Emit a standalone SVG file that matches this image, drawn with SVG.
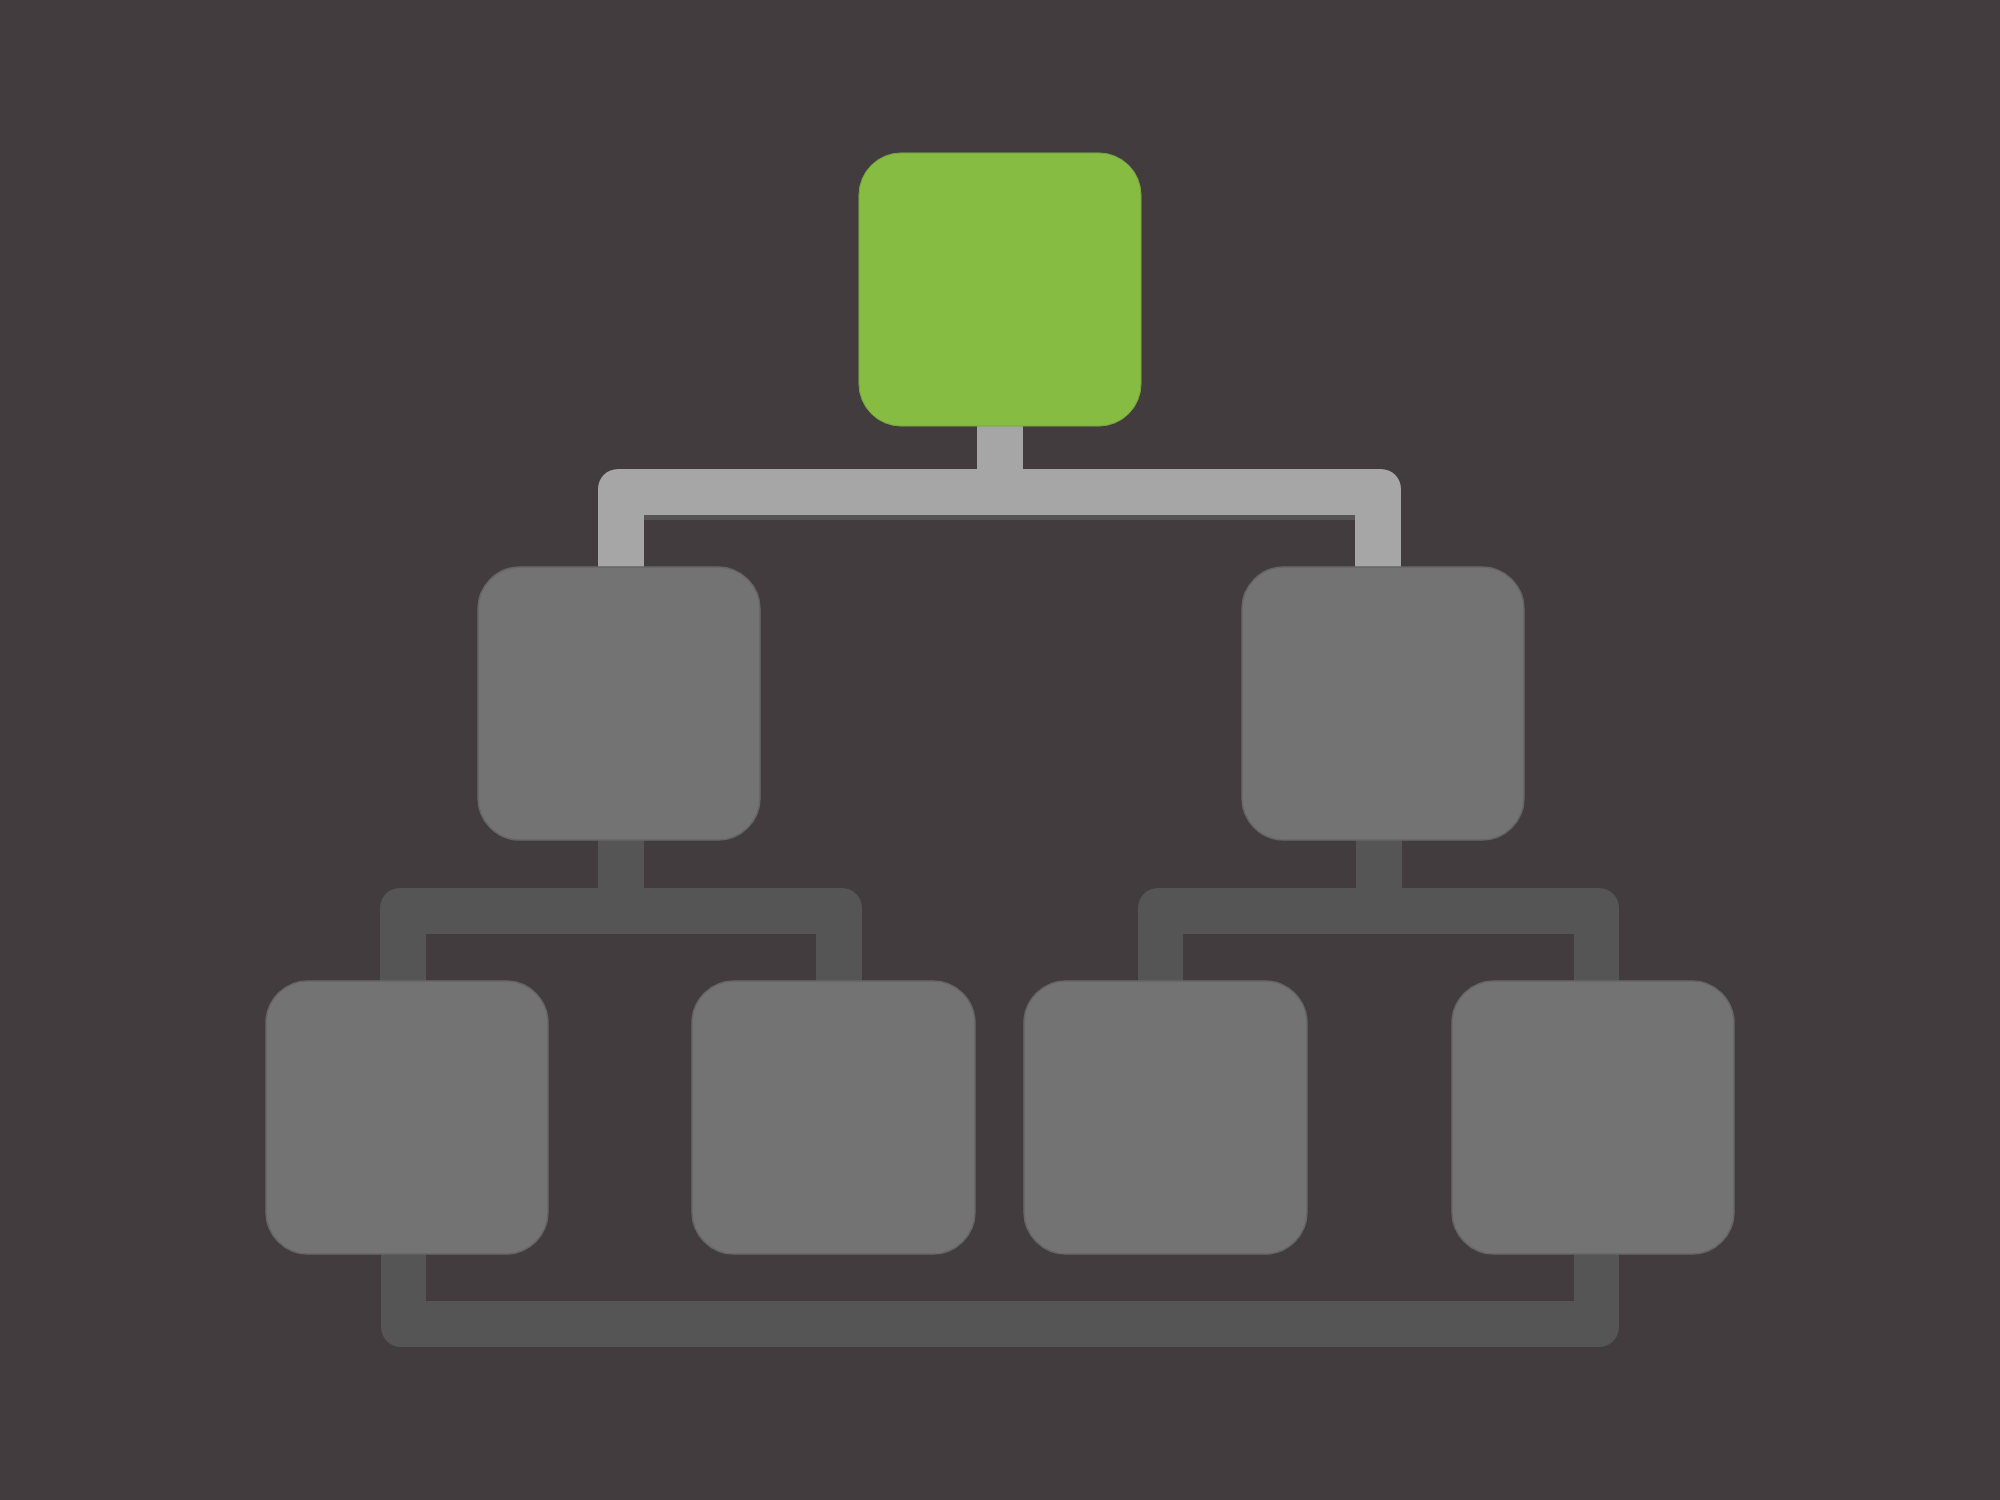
<svg xmlns="http://www.w3.org/2000/svg" width="2000" height="1500" viewBox="0 0 2000 1500">
<style>
.bg{fill:#423c3e}
.node{fill:#737373;stroke:#666;stroke-width:1.5}
.root{fill:#86bc42;stroke:#7aa83e;stroke-width:1}
.lt{fill:#a6a6a6}
.dk{fill:#555555}
</style>
<rect class="bg" x="0" y="0" width="2000" height="1500"/>
<g id="connectors">
<rect class="lt" x="977" y="420" width="46" height="52"/>
<path class="lt" d="M598 570 V489 A20 20 0 0 1 618 469 H1381 A20 20 0 0 1 1401 489 V570 H1355 V515 H644 V570 Z"/>
<rect class="dk" x="644" y="515" width="711" height="5"/>
<rect class="dk" x="598" y="836" width="46" height="56"/>
<path class="dk" d="M380 984 V908 A20 20 0 0 1 400 888 H842 A20 20 0 0 1 862 908 V984 H816 V934 H426 V984 Z"/>
<rect class="dk" x="1356" y="836" width="46" height="56"/>
<path class="dk" d="M1138 984 V908 A20 20 0 0 1 1158 888 H1599 A20 20 0 0 1 1619 908 V984 H1574 V934 H1183 V984 Z"/>
<path class="dk" d="M381 1250 V1327 A20 20 0 0 0 401 1347 H1599 A20 20 0 0 0 1619 1327 V1250 H1574 V1301 H426 V1250 Z"/>
</g>
<g id="node-root"><rect class="root" x="859" y="153" width="282" height="273" rx="42"/></g>
<g id="node-mid-left"><rect class="node" x="478" y="567" width="282" height="273" rx="42"/></g>
<g id="node-mid-right"><rect class="node" x="1242" y="567" width="282" height="273" rx="42"/></g>
<g id="node-bottom-1"><rect class="node" x="266" y="981" width="282" height="273" rx="42"/></g>
<g id="node-bottom-2"><rect class="node" x="692" y="981" width="283" height="273" rx="42"/></g>
<g id="node-bottom-3"><rect class="node" x="1024" y="981" width="283" height="273" rx="42"/></g>
<g id="node-bottom-4"><rect class="node" x="1452" y="981" width="282" height="273" rx="42"/></g>
</svg>
